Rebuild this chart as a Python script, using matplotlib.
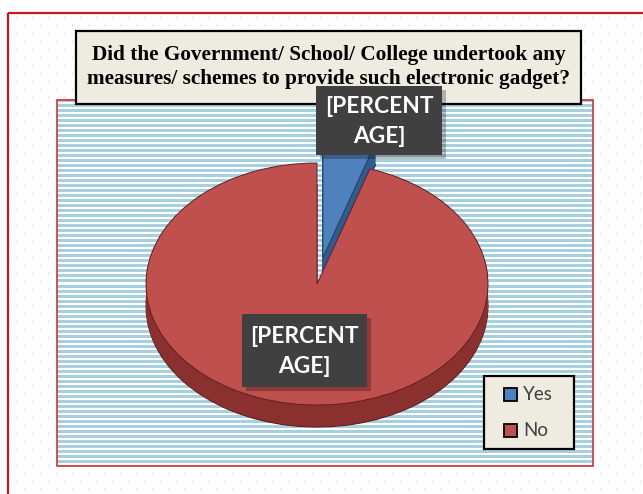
import numpy as np
import matplotlib
matplotlib.use("Agg")
import matplotlib.pyplot as plt
from matplotlib.patches import Rectangle

# Survey answers
categories = ["Yes", "No"]
shares = [5, 95]
label_text = "[PERCENT\nAGE]"

top_colors = ["#4f81bd", "#c0504d"]
side_colors = ["#2f5b8f", "#8a302e"]

W, H = 643, 494
fig = plt.figure(figsize=(W / 100, H / 100), dpi=100)
fig.patch.set_facecolor("white")


def pixel_axes():
    ax = fig.add_axes([0, 0, 1, 1])
    ax.set_xlim(0, W)
    ax.set_ylim(H, 0)
    ax.axis("off")
    ax.patch.set_alpha(0)
    return ax


# Pixel-space canvas for the backgrounds
bg = pixel_axes()

# Dotted chart-area background
xs, ys = [], []
for i, yy in enumerate(np.arange(17, H, 8)):
    off = 0 if i % 2 == 0 else 8
    for xx in np.arange(16 + off, W, 16):
        xs.append(xx)
        ys.append(yy)
bg.scatter(xs, ys, s=1.4, c="#d6d6d6", linewidths=0, zorder=0)

# Outer chart border
bg.add_patch(Rectangle((8, 13), W, H, fill=False, ec="#c8171e", lw=1.6, zorder=1))

# Striped plot area
px0, px1, py0, py1 = 57, 593, 100, 466
rows = py1 - py0
stripe = np.ones((rows, 1, 3))
blue = np.array([166, 208, 222]) / 255.0
for r in range(rows):
    if r % 5 in (0, 1, 2):
        stripe[r, 0] = blue
bg.imshow(stripe, extent=[px0, px1, py1, py0], aspect="auto",
          interpolation="nearest", zorder=1)
bg.add_patch(Rectangle((px0, py0), px1 - px0, py1 - py0, fill=False,
                       ec="#d0343a", lw=1.2, zorder=2))
bg.set_xlim(0, W)
bg.set_ylim(H, 0)

# 3-D pie: elliptical axes, side wall built from stacked layers
cx, cy, rx, ry = 317, 284, 171, 121
xr, yr = 1.25, 1.6
pie_ax = fig.add_axes([(cx - rx * xr) / W, (H - cy - ry * yr) / H,
                       2 * rx * xr / W, 2 * ry * yr / H])
pie_ax.axis("off")
pie_ax.patch.set_alpha(0)

explode = [0.22, 0.0]
depth = 22 / ry
layers = 30
for k in range(layers, 0, -1):
    dy = depth * k / layers
    wedges, _ = pie_ax.pie(shares, colors=side_colors, startangle=90,
                           counterclock=False, explode=explode,
                           center=(0, -dy), radius=1.0,
                           wedgeprops=dict(linewidth=0))
    if k == layers:
        for w in wedges:
            w.set_edgecolor("#5a1e1d")
            w.set_linewidth(0.8)
wedges, _ = pie_ax.pie(shares, colors=top_colors, startangle=90,
                       counterclock=False, explode=explode,
                       center=(0, 0), radius=1.0,
                       wedgeprops=dict(linewidth=0.7, edgecolor="#5e2120"))
wedges[0].set_edgecolor("#1f3f66")
pie_ax.set_aspect("auto")
pie_ax.set_xlim(-xr, xr)
pie_ax.set_ylim(-yr, yr)

# Overlay for title, data labels and legend
fg = pixel_axes()

# Title box
fg.add_patch(Rectangle((76, 31), 505, 73, fc="#eeece1", ec="black", lw=1.6, zorder=5))
fg.text(328.5, 67, "Did the Government/ School/ College undertook any\n"
        "measures/ schemes to provide such electronic gadget?",
        ha="center", va="center", fontsize=15.3, fontweight="bold",
        family="Liberation Serif", color="black", linespacing=1.25, zorder=6)


def label_box(x0, y0, w, h):
    fg.add_patch(Rectangle((x0 + 4, y0 + 4), w, h, fc="black", ec="none",
                           alpha=0.25, zorder=7))
    fg.add_patch(Rectangle((x0, y0), w, h, fc="#404040", ec="none", zorder=8))
    fg.text(x0 + w / 2, y0 + h / 2 + 1, label_text, ha="center", va="center",
            fontsize=16.4, fontweight="bold", family="Lato", color="white",
            linespacing=1.5, zorder=9)


label_box(316, 86, 126, 69)
label_box(242, 314, 125, 73)

# Legend
fg.add_patch(Rectangle((484, 376), 90, 73, fc="#eeece1", ec="black", lw=1.6, zorder=10))
for name, col, yy in zip(categories, top_colors, [394, 430]):
    fg.add_patch(Rectangle((504, yy - 6.5), 13, 13, fc=col, ec="black", lw=1.3, zorder=11))
    fg.text(523, yy, name, ha="left", va="center", fontsize=13.5, family="Lato",
            color="#404040", zorder=11)

fig.savefig("out.png", dpi=100)
